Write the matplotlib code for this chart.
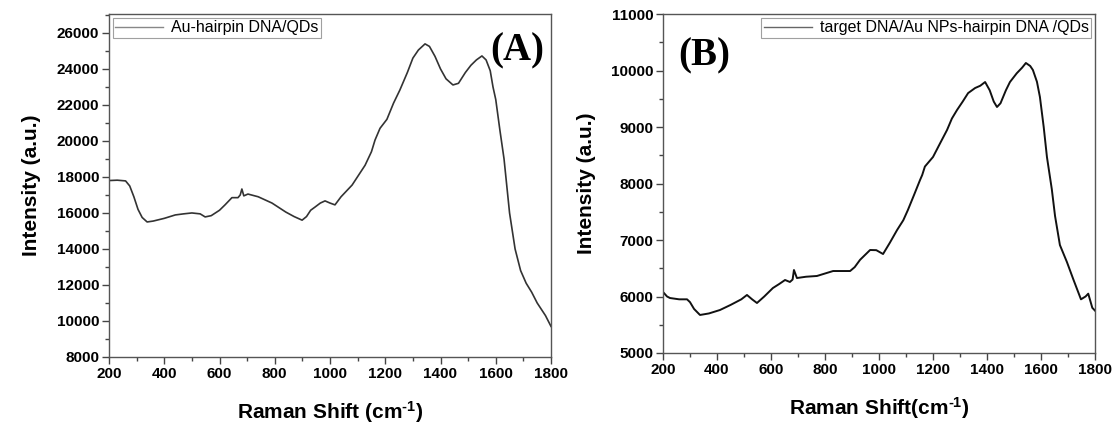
import matplotlib
matplotlib.use("Agg")
import matplotlib.pyplot as plt
from matplotlib.ticker import MultipleLocator

plt.rcParams['font.family'] = ['Liberation Sans', 'DejaVu Sans']
plt.rcParams['mathtext.fontset'] = 'custom'
plt.rcParams['mathtext.rm'] = 'Liberation Sans:bold'
plt.rcParams['mathtext.bf'] = 'Liberation Sans:bold'
plt.rcParams['mathtext.default'] = 'bf'

# Panel A data
shift_a = [200, 230, 260, 275, 290, 305, 320, 338, 360, 400, 440, 470, 500, 530, 548, 570,
           600, 620, 645, 667, 675, 681, 688, 703, 740, 790, 840, 870, 899, 915, 930, 946,
           965, 982, 1000, 1018, 1040, 1080, 1127, 1150, 1163, 1181, 1206, 1230, 1253, 1280,
           1300, 1320, 1344, 1360, 1380, 1400, 1420, 1445, 1465, 1490, 1510, 1530, 1550, 1565,
           1580, 1590, 1600, 1615, 1630, 1650, 1670, 1690, 1710, 1730, 1750, 1780, 1800]
intensity_a = [17800, 17820, 17780, 17500, 16900, 16200, 15750, 15500, 15550, 15700, 15890,
               15950, 16000, 15950, 15780, 15850, 16150, 16450, 16850, 16850, 17000, 17330,
               16950, 17050, 16900, 16550, 16050, 15800, 15600, 15800, 16150, 16330, 16550,
               16670, 16550, 16450, 16900, 17550, 18650, 19400, 20050, 20700, 21200, 22100,
               22830, 23800, 24600, 25050, 25390, 25250, 24700, 24000, 23450, 23110, 23200,
               23800, 24200, 24500, 24720, 24500, 23900, 23000, 22300, 20600, 19000, 16000,
               14000, 12800, 12100, 11600, 11000, 10300, 9700]

# Panel B data
shift_b = [200, 215, 226, 260, 289, 300, 315, 337, 370, 411, 450, 490, 511, 530, 548, 575,
           607, 630, 652, 670, 680, 685, 696, 730, 770, 830, 893, 910, 930, 967, 990, 1015,
           1040, 1067, 1090, 1107, 1130, 1152, 1160, 1170, 1200, 1225, 1252, 1270, 1289, 1310,
           1330, 1356, 1375, 1393, 1410, 1425, 1437, 1450, 1470, 1485, 1510, 1530, 1544, 1560,
           1570, 1585, 1596, 1610, 1622, 1640, 1652, 1670, 1696, 1720, 1748, 1765, 1775, 1790,
           1800]
intensity_b = [6080, 6000, 5973, 5950, 5950, 5900, 5780, 5673, 5700, 5761, 5850, 5950, 6027,
               5950, 5885, 6000, 6150, 6220, 6292, 6257, 6300, 6469, 6327, 6350, 6363, 6451,
               6451, 6520, 6650, 6823, 6820, 6752, 6950, 7177, 7350, 7531, 7800, 8062, 8150,
               8300, 8469, 8700, 8947, 9150, 9301, 9450, 9600, 9690, 9730, 9796, 9650, 9450,
               9354, 9420, 9650, 9796, 9950, 10050, 10133, 10080, 10009, 9800, 9531, 9000,
               8469, 7900, 7425, 6911, 6610, 6300, 5950, 6000, 6050, 5800, 5750]

label_a = 'Au-hairpin DNA/QDs'
label_b = 'target DNA/Au NPs-hairpin DNA /QDs'

fig = plt.figure(figsize=(11.2, 4.32), dpi=100)
ax_a = fig.add_axes([109/1120, 1-357/432, 442/1120, 343/432])
ax_b = fig.add_axes([663/1120, 1-353/432, 432/1120, 339/432])

def style(ax, ymin, ymax, ymaj, ymin_step):
    ax.set_xlim(200, 1800)
    ax.set_ylim(ymin, ymax)
    ax.xaxis.set_major_locator(MultipleLocator(200))
    ax.xaxis.set_minor_locator(MultipleLocator(100))
    ax.yaxis.set_major_locator(MultipleLocator(ymaj))
    ax.yaxis.set_minor_locator(MultipleLocator(ymin_step))
    ax.tick_params(which='both', direction='out', top=False, right=False, color='#444444')
    ax.tick_params(which='major', length=5, width=1, labelsize=11, pad=2)
    ax.tick_params(which='minor', length=3, width=1)
    for lab in ax.get_xticklabels() + ax.get_yticklabels():
        lab.set_fontweight('bold')
    for sp in ax.spines.values():
        sp.set_color('#555555')
        sp.set_linewidth(1.0)

ax_a.plot(shift_a, intensity_a, color='#333333', lw=1.2, label=label_a)
style(ax_a, 8000, 27050, 2000, 1000)
ax_a.set_xlabel(r'Raman Shift (cm$^{\text{-1}}$)', fontsize=15, fontweight='bold', labelpad=13)
ax_a.set_ylabel('Intensity (a.u.)', fontsize=15, fontweight='bold', labelpad=11)
leg = ax_a.legend(loc='upper left', fontsize=11.5, frameon=True, fancybox=False,
                  borderaxespad=0.25, handlelength=3, borderpad=0.15, handletextpad=0.5)
leg.get_frame().set_edgecolor('#888888')
leg.get_frame().set_linewidth(0.8)
for ln in leg.get_lines():
    ln.set_color('#888888')
    ln.set_linewidth(1.0)
ax_a.text(0.985, 0.945, '(A)', transform=ax_a.transAxes, ha='right', va='top',
          fontsize=28, fontweight='bold', family='Liberation Serif')

ax_b.plot(shift_b, intensity_b, color='#111111', lw=1.4, label=label_b)
style(ax_b, 5000, 11000, 1000, 500)
ax_b.set_xlabel(r'Raman Shift(cm$^{\text{-1}}$)', fontsize=15, fontweight='bold', labelpad=13)
ax_b.set_ylabel('Intensity (a.u.)', fontsize=15, fontweight='bold', labelpad=11)
leg = ax_b.legend(loc='upper right', fontsize=11.5, frameon=True, fancybox=False,
                  borderaxespad=0.25, handlelength=3, borderpad=0.15, handletextpad=0.5)
leg.get_frame().set_edgecolor('#888888')
leg.get_frame().set_linewidth(0.8)
for ln in leg.get_lines():
    ln.set_color('#666666')
    ln.set_linewidth(1.0)
ax_b.text(0.035, 0.93, '(B)', transform=ax_b.transAxes, ha='left', va='top',
          fontsize=28, fontweight='bold', family='Liberation Serif')

fig.savefig('out.png', dpi=100)
